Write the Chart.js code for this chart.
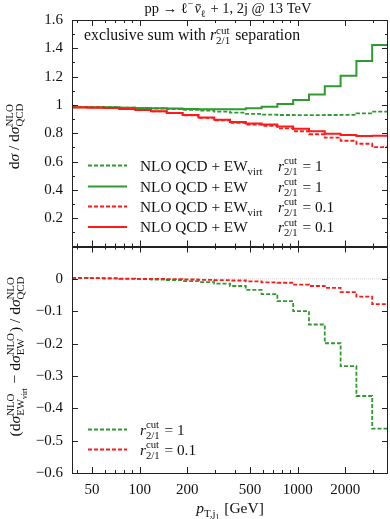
<!DOCTYPE html>
<html>
<head>
<meta charset="utf-8">
<script src="https://cdn.jsdelivr.net/npm/chart.js@4.4.1/dist/chart.umd.min.js"></script>
<style>
  html, body { margin: 0; padding: 0; background: #fff; }
</style>
</head>
<body>
<canvas id="ratioChart" width="390" height="519"></canvas>
<script>
// bin edges in pT,j1 [GeV] (log-uniform, 20 bins)
var binEdges = [37.3, 46.9, 59.1, 74.4, 93.7, 117.9, 148.4, 186.9, 235.3, 296.2, 372.8,
  469.4, 590.9, 743.9, 936.5, 1179, 1484, 1869, 2353, 2962, 3729];

// upper panel: ratio to NLO QCD
var greenVirt = [0.986, 0.986, 0.984, 0.981, 0.978, 0.975, 0.970, 0.965, 0.960, 0.953,
  0.946, 0.937, 0.931, 0.929, 0.928, 0.928, 0.929, 0.930, 0.941, 0.953];
var greenFull = [0.984, 0.984, 0.983, 0.981, 0.979, 0.977, 0.975, 0.972, 0.970, 0.969,
  0.970, 0.976, 0.988, 1.006, 1.035, 1.073, 1.132, 1.206, 1.310, 1.423];
var redVirt = [0.984, 0.983, 0.979, 0.973, 0.965, 0.955, 0.942, 0.927, 0.908, 0.891,
  0.874, 0.861, 0.852, 0.835, 0.814, 0.793, 0.769, 0.747, 0.726, 0.702];
var redFull = [0.982, 0.981, 0.978, 0.972, 0.965, 0.955, 0.943, 0.929, 0.911, 0.895,
  0.879, 0.869, 0.862, 0.847, 0.832, 0.815, 0.797, 0.788, 0.781, 0.782];

// lower panel: (EWvirt - EW) / QCD
var greenDiff = [0.002, 0.002, 0.001, 0.000, -0.001, -0.002, -0.004, -0.007, -0.010, -0.015,
  -0.022, -0.034, -0.047, -0.069, -0.100, -0.141, -0.199, -0.270, -0.362, -0.463];
var redDiff = [0.003, 0.002, 0.002, 0.001, 0.000, 0.000, -0.001, -0.002, -0.003, -0.004,
  -0.005, -0.008, -0.011, -0.012, -0.018, -0.022, -0.028, -0.041, -0.055, -0.078];

// tick labels
var xTickVals = [50, 100, 200, 500, 1000, 2000];
var xTickLabels = ["50", "100", "200", "500", "1000", "2000"];
var topTickVals = [0.2, 0.4, 0.6, 0.8, 1.0, 1.2, 1.4, 1.6];
var topTickLabels = ["0.2", "0.4", "0.6", "0.8", "1", "1.2", "1.4", "1.6"];
var botTickVals = [0, -0.1, -0.2, -0.3, -0.4, -0.5, -0.6];
var botTickLabels = ["0", "\u22120.1", "\u22120.2", "\u22120.3", "\u22120.4", "\u22120.5", "\u22120.6"];

var GREEN = "#2f9a2f";
var RED = "#ff1a1a";
var INK = "#111";
var FONT = '"Liberation Serif", "DejaVu Serif", serif';

function steps(vals) {
  var pts = vals.map(function (v, i) { return { x: binEdges[i], y: v }; });
  pts.push({ x: binEdges[binEdges.length - 1], y: vals[vals.length - 1] });
  return pts;
}

function labelFor(vals, labels) {
  return function (value) {
    for (var i = 0; i < vals.length; i++) {
      if (Math.abs(vals[i] - value) < 1e-6) return labels[i];
    }
    return "";
  };
}

// ---- little rich-text helper for the math labels ----
function fnt(size, it) { return (it ? "italic " : "") + size + "px " + FONT; }
function isScript(it) { return it.sup !== undefined || it.sub !== undefined; }
function itemWidth(ctx, it, size) {
  if (isScript(it)) {
    var s = size * 0.7, w1 = 0, w2 = 0;
    ctx.font = fnt(s, false);
    if (it.sup) w1 = ctx.measureText(it.sup).width;
    if (it.sub) w2 = ctx.measureText(it.sub).width;
    if (it.subsub) { ctx.font = fnt(size * 0.5, false); w2 += ctx.measureText(it.subsub).width; }
    return Math.max(w1, w2) + 1;
  }
  ctx.font = fnt(size * (it.s || 1), it.i);
  return ctx.measureText(it.t).width;
}
function rich(ctx, items, x, y, size, align) {
  var total = 0;
  items.forEach(function (it) { total += itemWidth(ctx, it, size); });
  var cx = align === "center" ? x - total / 2 : (align === "right" ? x - total : x);
  ctx.textAlign = "left";
  ctx.textBaseline = "alphabetic";
  items.forEach(function (it) {
    var iw = itemWidth(ctx, it, size);
    if (isScript(it)) {
      ctx.font = fnt(size * 0.7, false);
      if (it.sup) ctx.fillText(it.sup, cx, y - size * 0.4);
      if (it.sub) {
        ctx.fillText(it.sub, cx, y + size * 0.28);
        if (it.subsub) {
          var sw = ctx.measureText(it.sub).width;
          ctx.font = fnt(size * 0.5, false);
          ctx.fillText(it.subsub, cx + sw, y + size * 0.42);
        }
      }
    } else {
      ctx.font = fnt(size * (it.s || 1), it.i);
      ctx.fillText(it.t, cx, y);
      if (it.bar) ctx.fillRect(cx + iw * 0.25, y - size * 0.6, iw * 0.7, 1);
    }
    cx += iw;
  });
}

var rCut = [{ t: "r", i: 1 }, { sup: "cut", sub: "2/1" }];

var decor = {
  id: "decor",
  afterDraw: function (chart) {
    var ctx = chart.ctx;
    var xs = chart.scales.x, yt = chart.scales.yTop, yb = chart.scales.yBot;
    var L = Math.round(xs.left), R = Math.round(xs.right);
    ctx.save();

    // frames
    ctx.strokeStyle = "#222";
    ctx.lineWidth = 1;
    [yt, yb].forEach(function (s) {
      ctx.strokeRect(L + 0.5, Math.round(s.top) + 0.5, R - L - 1, Math.round(s.bottom - s.top) - 1);
    });

    // x ticks (inward, top and bottom of each panel)
    var xMinor = [];
    [10, 100, 1000].forEach(function (d) {
      for (var k = 1; k < 10; k++) {
        var v = k * d;
        if (v > xs.min && v < xs.max) xMinor.push(v);
      }
    });
    ctx.beginPath();
    xMinor.forEach(function (v) {
      var px = Math.round(xs.getPixelForValue(v)) + 0.5;
      var len = xTickVals.indexOf(v) >= 0 ? 6 : 3;
      [yt, yb].forEach(function (s) {
        ctx.moveTo(px, s.top); ctx.lineTo(px, s.top + len);
        ctx.moveTo(px, s.bottom); ctx.lineTo(px, s.bottom - len);
      });
    });
    // y ticks (inward, left and right)
    function yTick(s, v, len) {
      var py = Math.round(s.getPixelForValue(v)) + 0.5;
      ctx.moveTo(L, py); ctx.lineTo(L + len, py);
      ctx.moveTo(R, py); ctx.lineTo(R - len, py);
    }
    for (var k = 1; k < 16; k++) {
      var v = k / 10;
      yTick(yt, v, k % 2 === 0 ? 6 : 3);
    }
    botTickVals.forEach(function (v) { if (v > -0.6) yTick(yb, v, 6); });
    ctx.stroke();

    ctx.fillStyle = INK;
    // title
    rich(ctx, [{ t: "pp \u2192 " }, { t: "\u2113" }, { sup: "\u2212" }, { t: "\u03bd", i: 1, bar: 1 },
      { sub: "\u2113" }, { t: " + 1, 2j @ 13 TeV" }], 228, 13, 14.5, "center");

    // annotation
    rich(ctx, [{ t: "exclusive sum with " }].concat(rCut).concat([{ t: " separation" }]), 84, 40, 15.8, "left");

    // axis titles
    rich(ctx, [{ t: "p", i: 1 }, { sub: "T,j", subsub: "1" }, { t: " [GeV]" }], 230, 513, 15.5, "center");

    ctx.save();
    ctx.translate(19, 136);
    ctx.rotate(-Math.PI / 2);
    rich(ctx, [{ t: "d" }, { t: "\u03c3", i: 1 }, { t: " / d" }, { t: "\u03c3", i: 1 },
      { sup: "NLO", sub: "QCD" }], 0, 0, 15.5, "center");
    ctx.restore();

    ctx.save();
    ctx.translate(20, 356);
    ctx.rotate(-Math.PI / 2);
    rich(ctx, [{ t: "(d" }, { t: "\u03c3", i: 1 }, { sup: "NLO", sub: "EW", subsub: "virt" },
      { t: " \u2212 d" }, { t: "\u03c3", i: 1 }, { sup: "NLO", sub: "EW" },
      { t: ") / d" }, { t: "\u03c3", i: 1 }, { sup: "NLO", sub: "QCD" }], 0, 0, 15.5, "center");
    ctx.restore();

    // legends
    function sample(y, color, dashed) {
      ctx.save();
      ctx.strokeStyle = color;
      ctx.lineWidth = dashed ? 1.8 : 2;
      ctx.setLineDash(dashed ? [4, 2] : []);
      ctx.beginPath();
      ctx.moveTo(88, y); ctx.lineTo(127, y);
      ctx.stroke();
      ctx.restore();
    }
    var nloEW = [{ t: "NLO QCD + EW" }];
    var nloEWv = [{ t: "NLO QCD + EW" }, { sub: "virt" }];
    var upper = [
      [165.5, GREEN, true, nloEWv, "1"],
      [186.5, GREEN, false, nloEW, "1"],
      [206.5, RED, true, nloEWv, "0.1"],
      [227, RED, false, nloEW, "0.1"]
    ];
    upper.forEach(function (e) {
      sample(e[0], e[1], e[2]);
      ctx.fillStyle = INK;
      rich(ctx, e[3], 140, e[0] + 5, 15.3, "left");
      rich(ctx, rCut.concat([{ t: " = " + e[4] }]), 278, e[0] + 5, 15.3, "left");
    });
    [[429.5, GREEN, "1"], [449.5, RED, "0.1"]].forEach(function (e) {
      sample(e[0], e[1], true);
      ctx.fillStyle = INK;
      rich(ctx, rCut.concat([{ t: " = " + e[2] }]), 140, e[0] + 5, 15.3, "left");
    });

    ctx.restore();
  }
};

function line(label, vals, axis, color, dashed, order) {
  return {
    label: label,
    data: steps(vals),
    yAxisID: axis,
    borderColor: color,
    borderWidth: dashed ? 1.8 : 2,
    borderDash: dashed ? [4, 2] : [],
    stepped: "before",
    pointRadius: 0,
    fill: false,
    order: order
  };
}

var zeroLine = {
  label: "zero",
  data: [{ x: binEdges[0], y: 0 }, { x: binEdges[binEdges.length - 1], y: 0 }],
  yAxisID: "yBot",
  borderColor: "#cfcfcf",
  borderWidth: 1,
  borderDash: [1, 1],
  pointRadius: 0,
  order: 20
};

var tickFont = { family: FONT, size: 15 };

var ctx = document.getElementById("ratioChart").getContext("2d");
var chart = new Chart(ctx, {
  type: "line",
  data: {
    datasets: [
      zeroLine,
      line("QCD+EWvirt r=1", greenVirt, "yTop", GREEN, true, 4),
      line("QCD+EW r=1", greenFull, "yTop", GREEN, false, 3),
      line("QCD+EWvirt r=0.1", redVirt, "yTop", RED, true, 2),
      line("QCD+EW r=0.1", redFull, "yTop", RED, false, 1),
      line("diff r=1", greenDiff, "yBot", GREEN, true, 6),
      line("diff r=0.1", redDiff, "yBot", RED, true, 5)
    ]
  },
  options: {
    responsive: false,
    animation: false,
    devicePixelRatio: 1,
    layout: { padding: { top: 20, right: 2, left: 0, bottom: 0 } },
    plugins: { legend: { display: false }, tooltip: { enabled: false } },
    scales: {
      x: {
        type: "logarithmic",
        min: binEdges[0],
        max: binEdges[binEdges.length - 1],
        grid: { display: false, drawTicks: false },
        border: { display: false },
        afterBuildTicks: function (s) { s.ticks = xTickVals.map(function (v) { return { value: v }; }); },
        afterFit: function (s) { s.height = 46; },
        ticks: {
          autoSkip: false, maxRotation: 0, padding: 8, color: INK,
          font: tickFont,
          callback: labelFor(xTickVals, xTickLabels)
        }
      },
      yTop: {
        type: "linear", position: "left", stack: "panels", stackWeight: 1, weight: 2,
        min: 0, max: 1.6,
        grid: { display: false, drawTicks: false },
        border: { display: false },
        afterBuildTicks: function (s) { s.ticks = topTickVals.map(function (v) { return { value: v }; }); },
        afterFit: function (s) { s.width = 72; },
        ticks: {
          autoSkip: false, padding: 9, color: INK, font: tickFont,
          callback: labelFor(topTickVals, topTickLabels)
        }
      },
      yBot: {
        type: "linear", position: "left", stack: "panels", stackWeight: 1, weight: 1,
        min: -0.6, max: 0.1,
        grid: { display: false, drawTicks: false },
        border: { display: false },
        afterBuildTicks: function (s) { s.ticks = botTickVals.map(function (v) { return { value: v }; }); },
        afterFit: function (s) { s.width = 72; },
        ticks: {
          autoSkip: false, padding: 9, color: INK, font: tickFont,
          callback: labelFor(botTickVals, botTickLabels)
        }
      }
    }
  },
  plugins: [decor]
});
</script>
</body>
</html>
